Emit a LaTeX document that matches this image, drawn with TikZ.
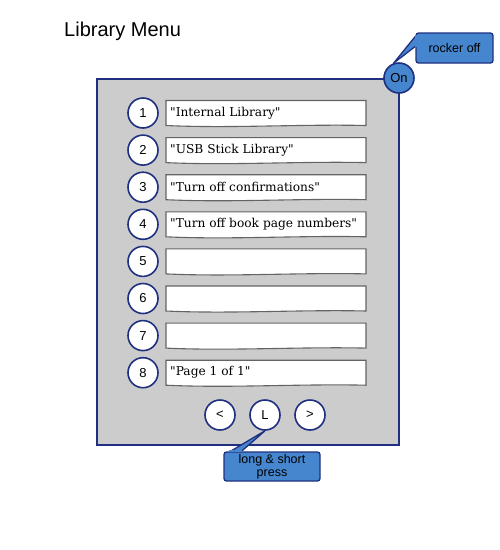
\documentclass[tikz,border=0pt]{standalone}
\usepackage{fontspec}
\setmainfont{Liberation Sans}
\newfontfamily\serifbox{DejaVu Serif}
\definecolor{frameblue}{RGB}{31,48,128}
\definecolor{panelgray}{RGB}{204,204,204}
\definecolor{callfill}{RGB}{70,134,206}
\definecolor{boxline}{RGB}{100,100,100}
\begin{document}
\begin{tikzpicture}[x=1pt,y=-1pt,
  numcirc/.style={circle,draw=frameblue,line width=1.6pt,fill=white,minimum size=30pt,inner sep=0pt,font=\fontsize{13}{15}\selectfont},
  txt/.style={anchor=west,inner sep=0pt,font=\serifbox\fontsize{12.2}{14}\selectfont},
  callbox/.style={draw=frameblue,line width=1.3pt,fill=callfill,rounded corners=2.5pt,font=\fontsize{12.5}{13}\selectfont,align=center,inner sep=0pt},
  tail/.style={draw=frameblue,line width=1.3pt,fill=callfill,line join=round}]
\useasboundingbox (0,0) rectangle (500,550);
\node[anchor=base west,inner sep=0pt,font=\fontsize{20}{24}\selectfont] (title) at (64,36) {Library Menu};
\node[draw=frameblue,line width=1.6pt,fill=panelgray,minimum width=302pt,minimum height=366pt,inner sep=0pt] (panel) at (248,262) {};
\foreach \i/\t [count=\k] in {1/{"Internal Library"},2/{"USB Stick Library"},3/{"Turn off confirmations"},4/{"Turn off book page numbers"},5/{},6/{},7/{},8/{"Page 1 of 1"}}{
  \pgfmathsetmacro\yy{113+37.1*(\k-1)}
  \node[numcirc] (n\i) at (143,\yy) {\i};
  \path[draw=boxline,line width=1.1pt,fill=white] (166,\yy-12.5) -- (366,\yy-12.5) -- (366,\yy+12.5) .. controls (300,\yy+11) and (230,\yy+15.5) .. (166,\yy+12.5) -- cycle;
  \coordinate (b\i) at (170,\yy);
  \node[txt] (t\i) at (b\i) {\t};
}
\node[numcirc] (prev) at (220,415) {<};
\node[numcirc] (lbtn) at (265,415) {L};
\node[numcirc] (next) at (310,415) {>};
% rocker callout
\node[numcirc,fill=callfill,font=\fontsize{13}{15}\selectfont] (on) at (399,78) {On};
\node[callbox,minimum width=77pt,minimum height=30pt] (rocker) at (454.5,48) {rocker off};
\path[tail] ([yshift=-4pt]rocker.north west) -- (on.110) -- ([yshift=-14pt]rocker.north west);
\draw[callfill,line width=2pt] ([yshift=-3pt,xshift=0.8pt]rocker.north west) -- ([yshift=-15pt,xshift=0.8pt]rocker.north west);
% long & short press callout
\node[callbox,minimum width=96pt,minimum height=29pt] (press) at (272,466.5) {long \& short\\press};
\path[tail] ([xshift=7pt]press.north west) -- (lbtn.south) -- ([xshift=18pt]press.north west);
\draw[callfill,line width=2pt] ([xshift=6pt,yshift=0.8pt]press.north west) -- ([xshift=19pt,yshift=0.8pt]press.north west);
\end{tikzpicture}
\end{document}
